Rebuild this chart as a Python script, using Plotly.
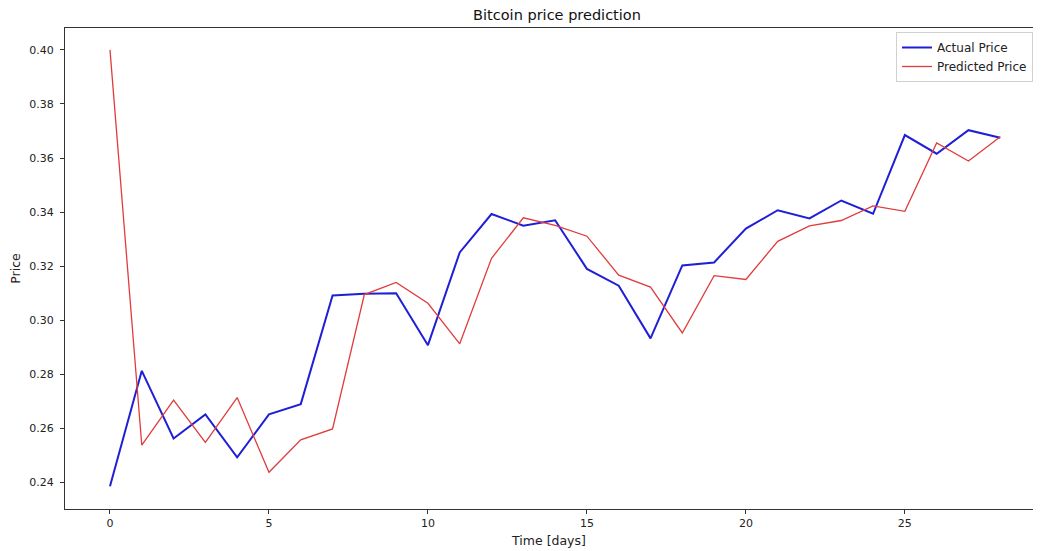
import plotly.graph_objects as go

days = list(range(29))
actual_price = [0.2386, 0.2813, 0.2563, 0.2652, 0.2493, 0.2652, 0.2690, 0.3092, 0.3098, 0.3100,
                0.2908, 0.3251, 0.3393, 0.3350, 0.3370, 0.3190, 0.3128, 0.2933, 0.3203, 0.3214,
                0.3339, 0.3407, 0.3377, 0.3443, 0.3394, 0.3685, 0.3616, 0.3703, 0.3675]
predicted_price = [0.4000, 0.2538, 0.2705, 0.2548, 0.2714, 0.2438, 0.2558, 0.2598, 0.3095, 0.3140,
                   0.3063, 0.2913, 0.3229, 0.3379, 0.3351, 0.3311, 0.3167, 0.3123, 0.2953, 0.3165,
                   0.3151, 0.3292, 0.3349, 0.3369, 0.3423, 0.3403, 0.3656, 0.3589, 0.3679]
x_ticks = [0, 5, 10, 15, 20, 25]
y_ticks = [0.24, 0.26, 0.28, 0.30, 0.32, 0.34, 0.36, 0.38, 0.40]

fig = go.Figure()
fig.add_trace(go.Scatter(x=days, y=actual_price, mode="lines", name="Actual Price",
                         line=dict(color="#1f1fd6", width=2)))
fig.add_trace(go.Scatter(x=days, y=predicted_price, mode="lines", name="Predicted Price",
                         line=dict(color="#e03c3c", width=1.3)))

font = "DejaVu Sans, sans-serif"
fig.update_layout(
    width=1025, height=543,
    margin=dict(l=57, r=0, t=20, b=42),
    paper_bgcolor="white", plot_bgcolor="white",
    font=dict(family=font, size=11, color="#222"),
    title=dict(text="Bitcoin price prediction", x=549 / 1025, xanchor="center", y=1 - 7 / 543,
               yanchor="middle", font=dict(family=font, size=14.5, color="#111")),
    legend=dict(x=1.0, xanchor="right", y=0.9917, yanchor="top", bgcolor="rgba(255,255,255,0.9)",
                bordercolor="#d0d0d0", borderwidth=1, font=dict(size=12, color="#222"),
                tracegroupgap=0, itemwidth=30),
    showlegend=True,
)
fig.update_xaxes(range=[-1.415, 29.03], tickvals=x_ticks, ticks="outside", ticklen=4, tickcolor="#333",
                 showline=True, linecolor="#333", linewidth=1, mirror=True, showgrid=False, zeroline=False,
                 title=dict(text="Time [days]", standoff=7, font=dict(size=12.5)))
fig.update_yaxes(range=[0.2302, 0.4081], tickvals=y_ticks, tickformat=".2f", ticks="outside", ticklen=4,
                 tickcolor="#333", showline=True, linecolor="#333", linewidth=1, mirror=False,
                 showgrid=False, zeroline=False, ticklabelstandoff=4,
                 title=dict(text="Price", standoff=9, font=dict(size=12.5)))

fig.write_html("out.html")
